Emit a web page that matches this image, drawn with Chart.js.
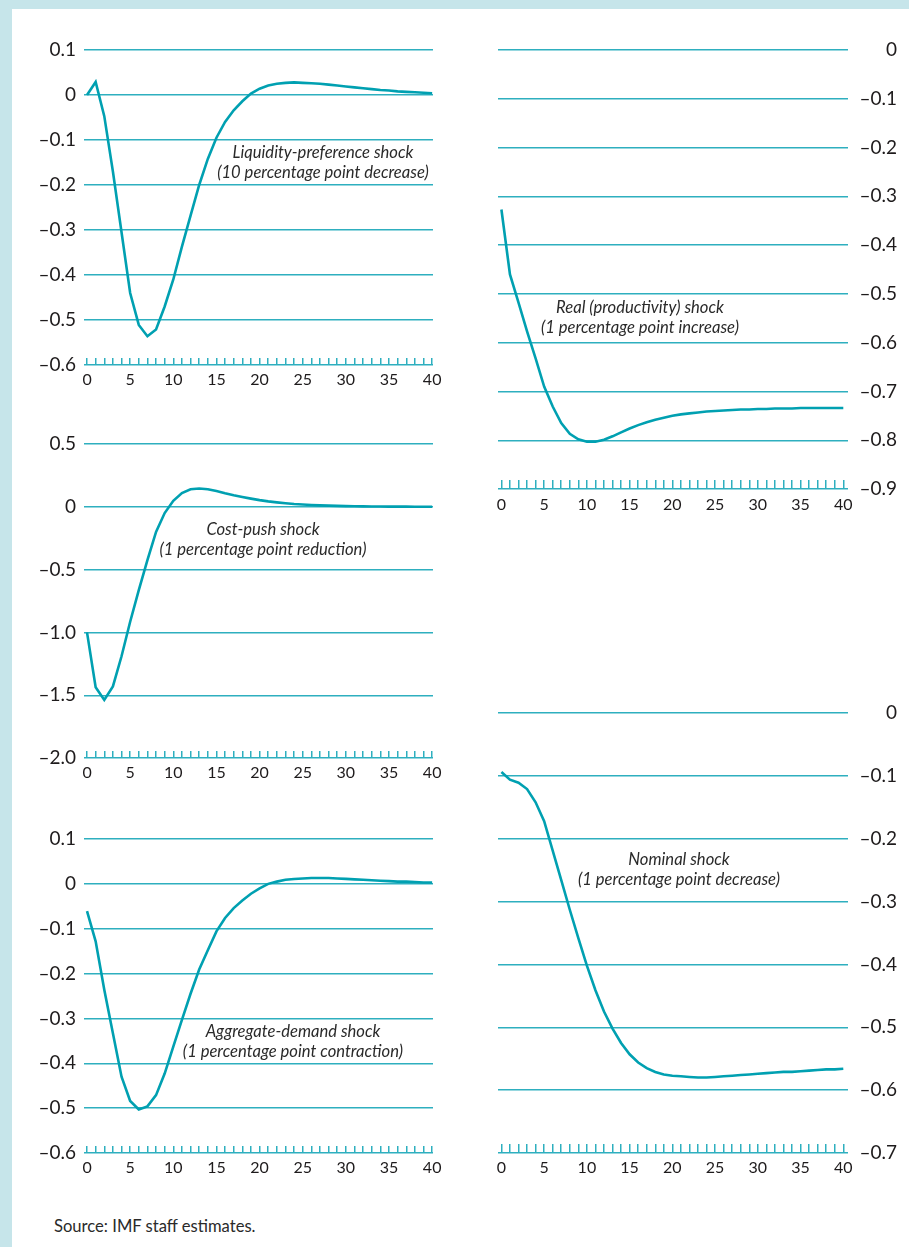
<!DOCTYPE html>
<html><head><meta charset="utf-8">
<script src="https://cdn.jsdelivr.net/npm/chart.js@4/dist/chart.umd.min.js"></script>
<style>
html,body{margin:0;padding:0;}
body{width:909px;height:1247px;background:#c6e5ea;position:relative;overflow:hidden;font-family:Lato,sans-serif;}
#sheet{position:absolute;left:12px;top:9px;right:0;bottom:0;background:#fff;}
canvas{position:absolute;}
.note{position:absolute;font-style:italic;font-size:16.6px;color:#2a2a2a;text-align:center;white-space:nowrap;line-height:20px;transform:translateX(-50%);}
#source{position:absolute;left:54px;top:1216px;font-size:16.6px;line-height:20px;color:#2a2a2a;}
</style></head><body>
<div id="sheet"></div>
<div id="charts"></div>
<div class="note" style="left:323px;top:142px">Liquidity-preference shock<br>(10 percentage point decrease)</div>
<div class="note" style="left:640px;top:297px">Real (productivity) shock<br>(1 percentage point increase)</div>
<div class="note" style="left:263px;top:519px">Cost-push shock<br>(1 percentage point reduction)</div>
<div class="note" style="left:293px;top:1021px">Aggregate-demand shock<br>(1 percentage point contraction)</div>
<div class="note" style="left:679px;top:849px">Nominal shock<br>(1 percentage point decrease)</div>
<div id="source">Source: IMF staff estimates.</div>
<script>
// ---- data ----
const periods = [0,1,2,3,4,5,6,7,8,9,10,11,12,13,14,15,16,17,18,19,20,21,22,23,24,25,26,27,28,29,30,31,32,33,34,35,36,37,38,39,40];
const xTickLabels = [0,5,10,15,20,25,30,35,40];

const liquidityShock = [0,0.029,-0.047,-0.17,-0.305,-0.44,-0.511,-0.536,-0.521,-0.47,-0.41,-0.337,-0.268,-0.2,-0.142,-0.095,-0.06,-0.034,-0.014,0.003,0.014,0.021,0.025,0.027,0.028,0.027,0.026,0.025,0.023,0.021,0.019,0.017,0.015,0.013,0.011,0.010,0.008,0.007,0.006,0.005,0.004];
const realShock = [-0.327,-0.46,-0.518,-0.577,-0.632,-0.69,-0.731,-0.765,-0.787,-0.798,-0.803,-0.803,-0.799,-0.792,-0.784,-0.776,-0.769,-0.763,-0.758,-0.754,-0.75,-0.747,-0.745,-0.743,-0.741,-0.740,-0.739,-0.738,-0.737,-0.737,-0.736,-0.736,-0.735,-0.735,-0.735,-0.734,-0.734,-0.734,-0.734,-0.734,-0.734];
const costPushShock = [-1.0,-1.437,-1.538,-1.43,-1.19,-0.915,-0.663,-0.424,-0.2,-0.05,0.048,0.11,0.14,0.146,0.14,0.126,0.108,0.092,0.078,0.065,0.053,0.043,0.035,0.028,0.022,0.018,0.014,0.011,0.009,0.007,0.005,0.004,0.003,0.002,0.002,0.001,0.001,0.001,0,0,0];
const aggDemandShock = [-0.061,-0.128,-0.236,-0.333,-0.43,-0.484,-0.503,-0.496,-0.471,-0.423,-0.363,-0.303,-0.245,-0.191,-0.148,-0.106,-0.076,-0.054,-0.037,-0.022,-0.01,0.0,0.005,0.009,0.011,0.012,0.013,0.013,0.013,0.012,0.011,0.010,0.009,0.008,0.007,0.006,0.005,0.005,0.004,0.003,0.003];
const nominalShock = [-0.094,-0.106,-0.111,-0.121,-0.142,-0.172,-0.219,-0.266,-0.313,-0.358,-0.402,-0.441,-0.475,-0.502,-0.525,-0.543,-0.556,-0.565,-0.571,-0.575,-0.577,-0.578,-0.579,-0.58,-0.58,-0.579,-0.578,-0.577,-0.576,-0.575,-0.574,-0.573,-0.572,-0.571,-0.571,-0.570,-0.569,-0.568,-0.567,-0.567,-0.566];

const yTicksLiquidity = [0.1,0,-0.1,-0.2,-0.3,-0.4,-0.5,-0.6];
const yTicksReal = [0,-0.1,-0.2,-0.3,-0.4,-0.5,-0.6,-0.7,-0.8,-0.9];
const yTicksCostPush = [0.5,0,-0.5,-1.0,-1.5,-2.0];
const yTicksAggDemand = [0.1,0,-0.1,-0.2,-0.3,-0.4,-0.5,-0.6];
const yTicksNominal = [0,-0.1,-0.2,-0.3,-0.4,-0.5,-0.6,-0.7];

// ---- style ----
const LINE = '#00a0b1';
const GRID = '#2eafbf';
const TEXT = '#1e1b1c';
const YFONT = {family:'Lato', size:19};
const XFONT = {family:'Lato', size:16};
const RIGHT_LABEL_EDGE = 897;

function fmt(v){
  if (Math.abs(v) < 1e-9) return '0';
  return (v < 0 ? '\u2013' : '') + Math.abs(v).toFixed(1);
}

function measureWidest(labels){
  const c = document.createElement('canvas').getContext('2d');
  c.font = YFONT.size + 'px ' + YFONT.family;
  return Math.max(...labels.map(l => c.measureText(l).width));
}

function panel(values, yTicks, g){
  const PT = 40, PR = 40, PL = 40, XH = 40;
  const AX = g.side === 'left' ? 80 : (RIGHT_LABEL_EDGE - g.R);
  const cv = document.createElement('canvas');
  let left, width;
  if (g.side === 'left') { left = g.L - AX; width = AX + (g.R - g.L) + PR; }
  else { left = g.L - PL; width = PL + (g.R - g.L) + AX; }
  const top = g.T - PT, height = PT + (g.B - g.T) + XH;
  cv.width = width; cv.height = height;
  cv.style.left = left + 'px'; cv.style.top = top + 'px';
  cv.style.width = width + 'px'; cv.style.height = height + 'px';
  document.getElementById('charts').appendChild(cv);
  const widest = measureWidest(yTicks.map(fmt));
  const yPad = g.side === 'left' ? 8 : Math.max(0, AX - widest);
  new Chart(cv, {
    type: 'line',
    data: { labels: periods, datasets: [{ data: values, borderColor: LINE, borderWidth: 2.6, pointRadius: 0, tension: 0, fill: false }] },
    options: {
      responsive: false, animation: false, devicePixelRatio: 1,
      layout: { padding: g.side === 'left' ? {top: PT, right: PR, left: 0, bottom: 0} : {top: PT, left: PL, right: 0, bottom: 0} },
      plugins: { legend: {display:false}, tooltip: {enabled:false} },
      scales: {
        x: {
          type: 'linear', min: g.xmin, max: g.xmax,
          afterBuildTicks: s => { s.ticks = periods.map(v => ({value: v})); },
          afterFit: s => { s.height = XH; },
          grid: { drawOnChartArea: false, drawTicks: true, tickLength: -g.tick, color: GRID, tickColor: GRID, lineWidth: 1.5, tickWidth: 1.5 },
          border: { display: false },
          ticks: { autoSkip: false, maxRotation: 0, minRotation: 0, padding: g.xpad, font: XFONT, color: TEXT,
                   callback: v => xTickLabels.includes(v) ? String(v) : '' }
        },
        y: {
          type: 'linear', position: g.side, min: yTicks[yTicks.length-1], max: yTicks[0],
          afterBuildTicks: s => { s.ticks = yTicks.map(v => ({value: v})); },
          afterFit: s => { s.width = AX; },
          grid: { color: GRID, lineWidth: 1.4, drawTicks: false },
          border: { display: false },
          ticks: { autoSkip: false, padding: yPad, font: YFONT, color: TEXT,
                   crossAlign: g.side === 'left' ? 'near' : 'far', callback: v => fmt(v) }
        }
      }
    }
  });
}

panel(liquidityShock, yTicksLiquidity, {side:'left', L:84, R:433, T:50, B:365, xmin:-0.35, xmax:40.1, tick:7, xpad:12});
panel(realShock, yTicksReal, {side:'right', L:498, R:848, T:50, B:489, xmin:-0.4, xmax:40.55, tick:9, xpad:15});
panel(costPushShock, yTicksCostPush, {side:'left', L:84, R:433, T:444, B:758, xmin:-0.35, xmax:40.1, tick:7, xpad:12});
panel(aggDemandShock, yTicksAggDemand, {side:'left', L:84, R:433, T:839, B:1153, xmin:-0.35, xmax:40.1, tick:7, xpad:12});
panel(nominalShock, yTicksNominal, {side:'right', L:498, R:848, T:713, B:1153, xmin:-0.4, xmax:40.55, tick:9, xpad:14});
</script>
</body></html>
